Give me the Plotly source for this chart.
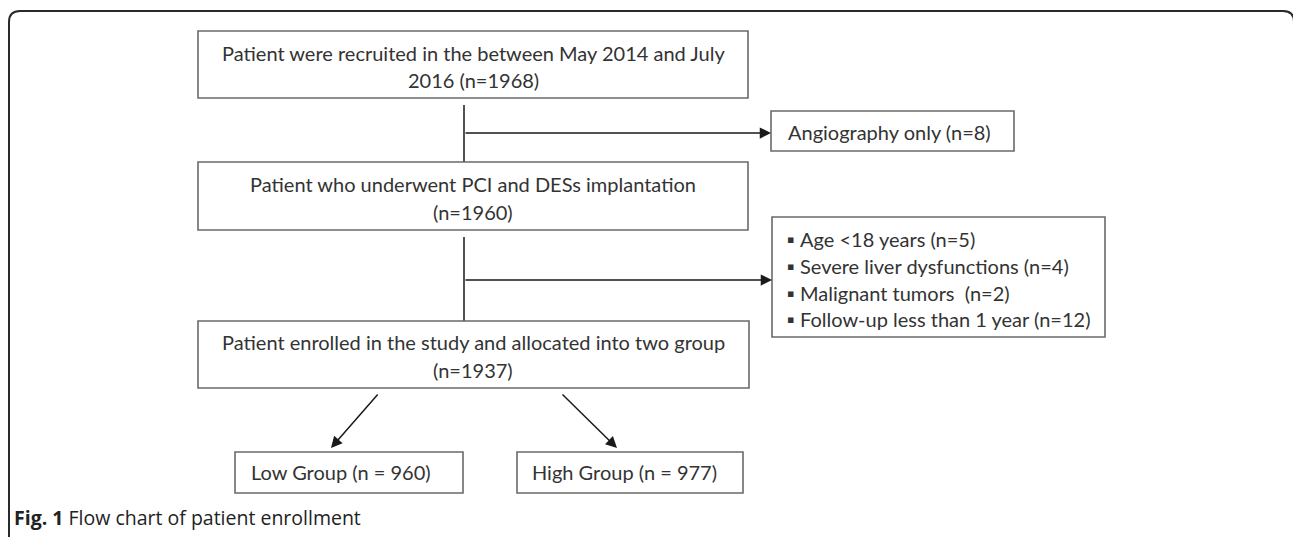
import plotly.graph_objects as go

# ---- data (counts from the flow chart) ----
recruited = 1968
angiography_only = 8
pci_des = 1960
exclusion_labels = ["Age <18 years", "Severe liver dysfunctions", "Malignant tumors ", "Follow-up less than 1 year"]
exclusion_counts = [5, 4, 2, 12]
enrolled = 1937
group_labels = ["Low Group", "High Group"]
group_counts = [960, 977]
caption_bold = "Fig. 1"
caption_text = " Flow chart of patient enrollment"

# ---- layout geometry (pixels, y downwards) ----
W, H = 1293, 537
FONT = "Lato"
TXT = "#333333"
BOX_LINE = dict(color="#6a6a6a", width=1.6)
CONN = dict(color="#1a1a1a", width=1.5)

fig = go.Figure()
fig.add_trace(go.Scatter(x=[0, W], y=[0, H], mode="markers", marker=dict(opacity=0), hoverinfo="skip", showlegend=False))

shapes = []
annotations = []

def box(x0, y0, x1, y1):
    shapes.append(dict(type="rect", xref="x", yref="y", x0=x0, y0=y0, x1=x1, y1=y1,
                       line=BOX_LINE, fillcolor="rgba(0,0,0,0)"))

def text(x, y, s, anchor="center", size=20, color=TXT, family=FONT):
    annotations.append(dict(x=x, y=y, xref="x", yref="y", text=s, showarrow=False,
                            xanchor=anchor, yanchor="middle",
                            font=dict(family=family, size=size, color=color)))

def line(x0, y0, x1, y1):
    shapes.append(dict(type="line", xref="x", yref="y", x0=x0, y0=y0, x1=x1, y1=y1, line=CONN))

def arrow(x0, y0, x1, y1):
    annotations.append(dict(x=x1, y=y1, ax=x0, ay=y0, xref="x", yref="y", axref="x", ayref="y",
                            text="", showarrow=True, arrowhead=2, arrowsize=1.5,
                            arrowwidth=1.5, arrowcolor="#1a1a1a", standoff=0))

# outer rounded frame (open at bottom, right side just beyond the edge)
shapes.append(dict(type="path", xref="x", yref="y",
                   path=f"M 9,{H+5} L 9,22 Q 9,11 20,11 L 1283,11 Q 1294,11 1294,22 L 1294,{H+5}",
                   line=dict(color="#2a2a2a", width=2)))

cx = 473
# box 1
box(198, 31, 748, 98)
text(cx, 53, "Patient were recruited in the between May 2014 and July")
text(cx, 80, f"2016 (n={recruited})")
# connector 1 and exclusion arrow
line(464, 105, 464, 162)
arrow(464, 133, 771, 133)
box(771, 111, 1014, 151)
text(786, 132, f"Angiography only (n={angiography_only})", anchor="left")
# box 2
box(198, 162, 748, 230)
text(cx, 184, "Patient who underwent PCI and DESs implantation")
text(cx, 212, f"(n={pci_des})")
# connector 2 and exclusion arrow
line(464, 237, 464, 321)
arrow(464, 280, 772, 280)
box(772, 217, 1105, 337)
ys = [239, 266, 293, 319]
for yy, lab, c in zip(ys, exclusion_labels, exclusion_counts):
    text(785, yy, "\u25aa", anchor="left", size=11, family="DejaVu Sans")
    text(798, yy, f"{lab} (n={c})", anchor="left")
# box 3
box(198, 321, 749, 388)
text(cx, 342, "Patient enrolled in the study and allocated into two group")
text(cx, 370, f"(n={enrolled})")
# group arrows
arrow(379, 393, 331, 448)
arrow(561, 393, 617, 448)
# group boxes
box(235, 452, 463, 493)
text(249, 472, f"{group_labels[0]} (n = {group_counts[0]})", anchor="left")
box(517, 452, 743, 493)
text(530, 472, f"{group_labels[1]} (n = {group_counts[1]})", anchor="left")

# caption
annotations.append(dict(x=12, y=517, xref="x", yref="y", showarrow=False, xanchor="left", yanchor="middle",
                        text=f"<b>{caption_bold}</b>{caption_text}",
                        font=dict(family="Open Sans", size=19.5, color="#222222")))

fig.update_layout(
    width=W, height=H,
    margin=dict(l=0, r=0, t=0, b=0),
    paper_bgcolor="white", plot_bgcolor="white",
    xaxis=dict(range=[0, W], visible=False, fixedrange=True),
    yaxis=dict(range=[H, 0], visible=False, fixedrange=True),
    shapes=shapes, annotations=annotations, showlegend=False,
)

fig.write_html("out.html", config={"displayModeBar": False},
               post_script="document.body.style.margin='0';document.body.style.overflow='hidden';")
